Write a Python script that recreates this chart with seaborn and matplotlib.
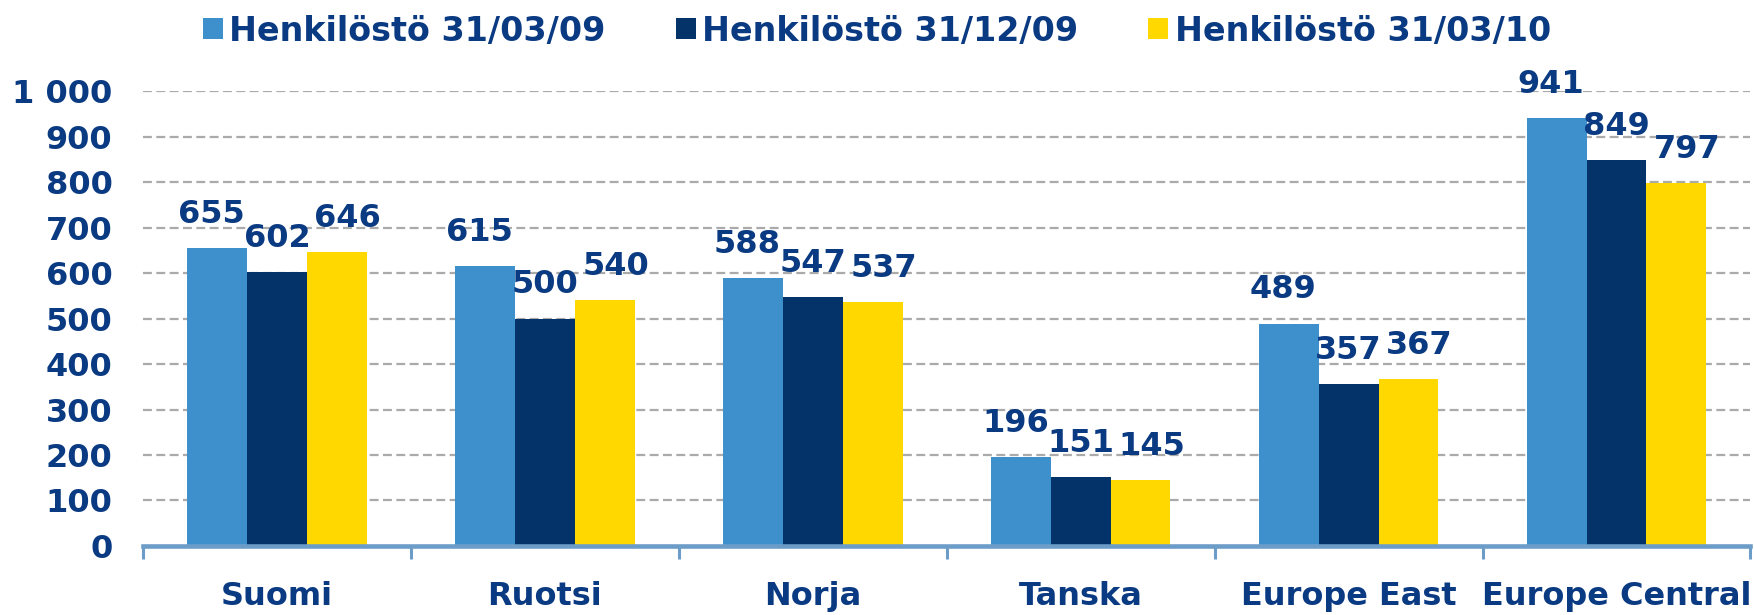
import matplotlib
matplotlib.use("Agg")
import matplotlib.pyplot as plt
import seaborn as sns
import pandas as pd
from matplotlib.ticker import FixedLocator, FuncFormatter

# Datos del gráfico
maat = ["Suomi", "Ruotsi", "Norja", "Tanska", "Europe East", "Europe Central"]
sarjat = ["Henkilöstö 31/03/09", "Henkilöstö 31/12/09", "Henkilöstö 31/03/10"]
henkilosto_0309 = [655, 615, 588, 196, 489, 941]
henkilosto_1209 = [602, 500, 547, 151, 357, 849]
henkilosto_0310 = [646, 540, 537, 145, 367, 797]
y_ticks = [0, 100, 200, 300, 400, 500, 600, 700, 800, 900, 1000]

colores = ["#3E90CD", "#033368", "#FFD800"]
azul_texto = "#0A3A82"
azul_eje = "#6C9DC9"

df = pd.DataFrame({
    "maa": maat * 3,
    "sarja": [sarjat[0]] * 6 + [sarjat[1]] * 6 + [sarjat[2]] * 6,
    "arvo": henkilosto_0309 + henkilosto_1209 + henkilosto_0310,
})

sns.set_style("white")
plt.rcParams["font.family"] = ["DejaVu Sans"]
plt.rcParams["font.weight"] = "bold"

fig = plt.figure(figsize=(17.54, 6.15), dpi=100)
ax = fig.add_axes([0.0815, 0.1122, 0.9165, 0.852 - 0.1122])

sns.barplot(data=df, x="maa", y="arvo", hue="sarja", palette=colores,
            width=0.67, saturation=1, linewidth=0, ax=ax, legend=True)

# Etiquetas de valores (desplazamiento lateral leve para que no se pisen)
desplazamientos = [-4, 0, 8]
for cont, dx in zip(ax.containers, desplazamientos):
    textos = ax.bar_label(cont, fmt="%d", padding=13, fontsize=23, fontweight="bold",
                          color=azul_texto, clip_on=False)
    for t in textos:
        t.xyann = (dx, 13)

ax.set_ylim(0, 1000)
ax.set_xlim(-0.5, 5.5)
ax.set_xlabel("")
ax.set_ylabel("")

# Eje Y
ax.yaxis.set_major_locator(FixedLocator(y_ticks))
ax.yaxis.set_major_formatter(FuncFormatter(lambda v, p: f"{int(v):,}".replace(",", " ")))
ax.tick_params(axis="y", length=0, pad=22, labelsize=23, labelcolor=azul_texto)
for lbl in ax.get_yticklabels():
    lbl.set_fontweight("bold")

# Cuadrícula discontinua
for v in y_ticks[1:]:
    ax.axhline(v, color="#AAAAAA", linewidth=1.6, linestyle=(0, (4, 2)), zorder=0)
ax.set_axisbelow(True)

# Eje X con marcas entre categorías
ax.xaxis.set_minor_locator(FixedLocator([i - 0.5 for i in range(len(maat) + 1)]))
ax.tick_params(axis="x", which="major", length=0, pad=25, labelsize=23,
               labelcolor=azul_texto)
ax.tick_params(axis="x", which="minor", length=9, width=2.2, color=azul_eje,
               direction="out", bottom=True)
for lbl in ax.get_xticklabels():
    lbl.set_fontweight("bold")

for lado in ["left", "right", "top"]:
    ax.spines[lado].set_visible(False)
ax.spines["bottom"].set_color(azul_eje)
ax.spines["bottom"].set_linewidth(3.3)

# Leyenda arriba
handles, labels = ax.get_legend_handles_labels()
ax.get_legend().remove()
fig.legend(handles, labels, loc="center", bbox_to_anchor=(0.5, 1 - 31 / 615),
           ncol=3, frameon=False, handlelength=0.6, handleheight=0.6,
           handletextpad=0.2, columnspacing=2.1,
           prop={"size": 24, "weight": "bold"}, labelcolor=azul_texto)

plt.savefig("out.png", dpi=100)
